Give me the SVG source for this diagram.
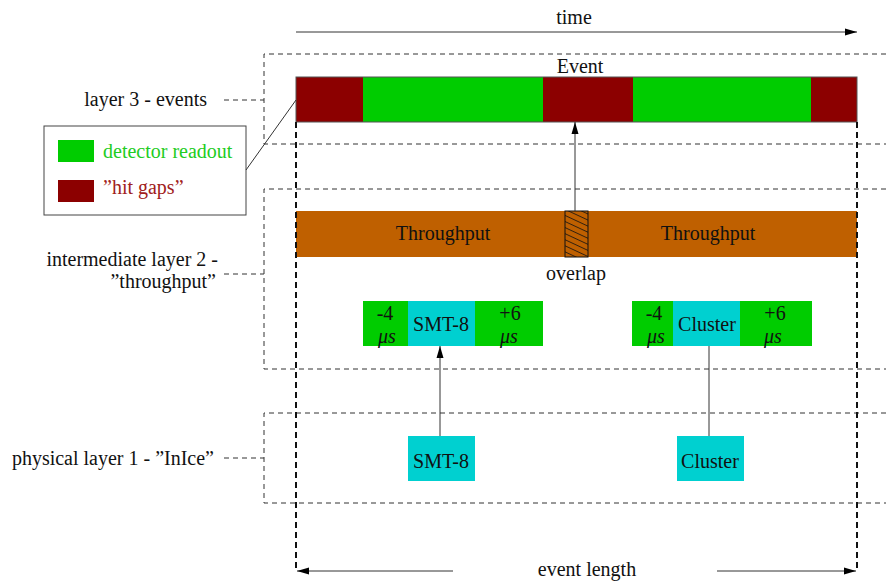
<svg xmlns="http://www.w3.org/2000/svg" width="886" height="581" viewBox="0 0 886 581">
<style>
text{font-family:"Liberation Serif","DejaVu Serif",serif;font-size:20px;fill:#111}
.c{text-anchor:middle}
.r{text-anchor:end}
.dash{fill:none;stroke:#333;stroke-width:1;stroke-dasharray:5 4}
.vdash{fill:none;stroke:#111;stroke-width:2;stroke-dasharray:6 4}
.ln{fill:none;stroke:#333;stroke-width:1}
.g{fill:#00cc00}
.rd{fill:#8c0000}
.cy{fill:#00d0d0}
.or{fill:#bf6000}
.it{font-style:italic}
</style>
<defs>
<marker id="ah" viewBox="0 0 12 10" refX="12" refY="5" markerWidth="12" markerHeight="10" markerUnits="userSpaceOnUse" orient="auto">
<path d="M0,1.5 L12,5 L0,8.5 z" fill="#000"/>
</marker>
<pattern id="hatch" width="6" height="5.5" patternUnits="userSpaceOnUse" patternTransform="rotate(25)">
<line x1="-1" y1="0.5" x2="7" y2="0.5" stroke="#111" stroke-width="0.8"/>
</pattern>
</defs>

<g id="layer-boxes">
<path class="dash" d="M886,54 H264 V144 H886"/>
<path class="dash" d="M886,189 H264 V369 H886"/>
<path class="dash" d="M886,413 H264 V503 H886"/>
<line class="dash" x1="224" y1="100" x2="264" y2="100"/>
<line class="dash" x1="224" y1="274" x2="264" y2="274"/>
<line class="dash" x1="224" y1="458" x2="264" y2="458"/>
</g>

<g id="labels">
<text class="r" x="207" y="106">layer 3 - events</text>
<text class="r" x="218" y="266">intermediate layer 2 -</text>
<text class="r" x="216" y="288">”throughput”</text>
<text class="r" x="214" y="465">physical layer 1 - ”InIce”</text>
<text class="c" x="574" y="24">time</text>
</g>

<g id="event">
<rect class="rd" x="296" y="77" width="67" height="45"/>
<rect class="g" x="363" y="77" width="180" height="45"/>
<rect class="rd" x="543" y="77" width="90" height="45"/>
<rect class="g" x="633" y="77" width="178" height="45"/>
<rect class="rd" x="811" y="77" width="46" height="45"/>
<rect x="296" y="77" width="561" height="45" fill="none" stroke="#555" stroke-width="1"/>
<text class="c" x="580" y="73">Event</text>
</g>

<g id="legend">
<rect x="44" y="126" width="202" height="89" fill="#fff" stroke="#444" stroke-width="1"/>
<rect class="g" x="58" y="140" width="36" height="22"/>
<rect class="rd" x="58" y="180" width="36" height="22"/>
<text x="103" y="158" style="fill:#22cc22">detector readout</text>
<text x="103" y="194" style="fill:#a02020">”hit gaps”</text>
</g>

<g id="throughput">
<rect class="or" x="296" y="211" width="561" height="46"/>
<rect x="565" y="211" width="23" height="46" fill="url(#hatch)" stroke="#111" stroke-width="1"/>
<text class="c" x="443" y="240">Throughput</text>
<text class="c" x="708" y="240">Throughput</text>
<text class="c" x="576" y="280">overlap</text>
</g>

<g id="smt8-window">
<rect class="g" x="363" y="301" width="45" height="45"/>
<rect class="cy" x="408" y="301" width="67" height="45"/>
<rect class="g" x="475" y="301" width="68" height="45"/>
<text class="c" x="385" y="320">-4</text>
<text class="c it" x="387" y="343">μs</text>
<text class="c" x="441" y="331">SMT-8</text>
<text class="c" x="510" y="320">+6</text>
<text class="c it" x="509" y="343">μs</text>
</g>

<g id="cluster-window">
<rect class="g" x="632" y="301" width="41" height="45"/>
<rect class="cy" x="673" y="301" width="67" height="45"/>
<rect class="g" x="740" y="301" width="72" height="45"/>
<text class="c" x="654" y="320">-4</text>
<text class="c it" x="656" y="343">μs</text>
<text class="c" x="707" y="331">Cluster</text>
<text class="c" x="775" y="320">+6</text>
<text class="c it" x="773" y="343">μs</text>
</g>

<g id="smt8">
<rect class="cy" x="408" y="436" width="67" height="45"/>
<text class="c" x="441" y="468">SMT-8</text>
</g>

<g id="cluster">
<rect class="cy" x="677" y="436" width="67" height="45"/>
<text class="c" x="710" y="468">Cluster</text>
</g>

<g id="connectors">
<line class="ln" x1="296" y1="32" x2="857" y2="32" marker-end="url(#ah)"/>
<line class="ln" x1="246" y1="170" x2="296" y2="100"/>
<line class="ln" x1="575" y1="211" x2="575" y2="122" marker-end="url(#ah)"/>
<line class="ln" x1="440" y1="436" x2="440" y2="346" marker-end="url(#ah)"/>
<line class="ln" x1="709" y1="436" x2="709" y2="346"/>
<line class="vdash" x1="296" y1="122" x2="296" y2="572"/>
<line class="vdash" x1="857" y1="122" x2="857" y2="572"/>
<line class="ln" x1="453" y1="571" x2="297" y2="571" marker-end="url(#ah)"/>
<line class="ln" x1="717" y1="571" x2="856" y2="571" marker-end="url(#ah)"/>
<text class="c" x="587" y="576">event length</text>
</g>
</svg>
